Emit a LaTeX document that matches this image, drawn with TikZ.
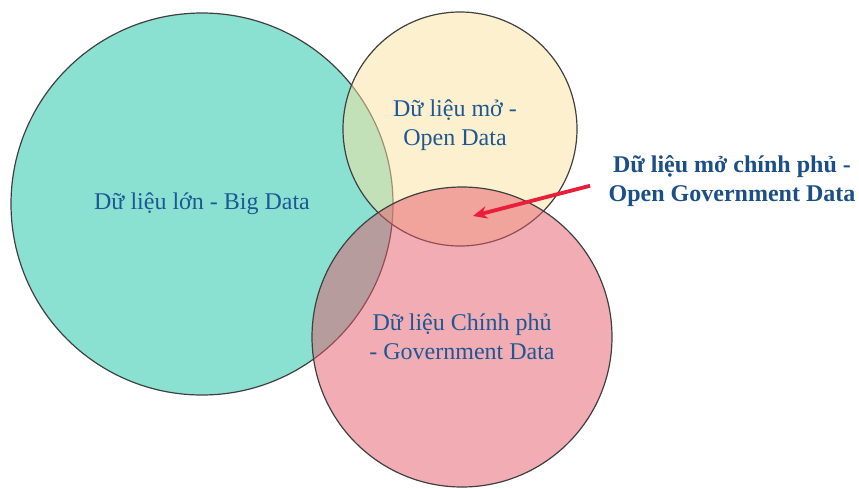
\documentclass[tikz,border=0pt]{standalone}
\usepackage{fontspec}
\setmainfont{Liberation Serif}
\usetikzlibrary{arrows.meta,positioning}
\usepackage{xcolor}

\definecolor{bigteal}{RGB}{138,225,210}
\definecolor{opencream}{RGB}{251,225,159}
\definecolor{govpink}{RGB}{229,89,105}
\definecolor{textblue}{RGB}{30,88,148}
\definecolor{arrowred}{RGB}{232,30,58}

\begin{document}
\begin{tikzpicture}[
  x=1pt, y=-1pt,
  >=Stealth,
  dataset/.style={
    circle,
    inner sep=0pt,
    minimum size=#1,
    draw=black!75,
    line width=1.2pt,
  },
  settext/.style={
    font=\fontsize{24}{29}\selectfont,
    text=textblue,
    align=center,
  },
  callout/.style={
    font=\fontsize{24}{29}\selectfont\bfseries,
    text=textblue!90!black,
    align=center,
    inner sep=0pt,
  },
  arr/.style={
    -{Stealth[length=5mm,width=4.4mm]},
    line width=3.8pt,
    arrowred,
  },
]
\useasboundingbox (0,0) rectangle (859,488);

% Circles
\node[dataset=382pt, fill=bigteal] (big) at (202,204) {};
\node[dataset=234pt, fill=opencream, fill opacity=0.5] (open) at (460,129) {};
\node[dataset=300pt, fill=govpink, fill opacity=0.5] (gov) at (462,337) {};

% Texts
\node[settext] (bigtext) at (big.center) {Dữ liệu lớn - Big Data};
\node[settext] (opentext) at (455,125) {Dữ liệu mở -\\Open Data};
\node[settext] (govtext) at (gov.center) {Dữ liệu Chính phủ\\- Government Data};

% Callout
\node[callout] (ogd) at (732,181) {Dữ liệu mở chính phủ -\\Open Government Data};
\coordinate (ogdarea) at (473,216);
\draw[arr, shorten <=19pt] (ogd.west) -- (ogdarea);

\end{tikzpicture}
\end{document}
